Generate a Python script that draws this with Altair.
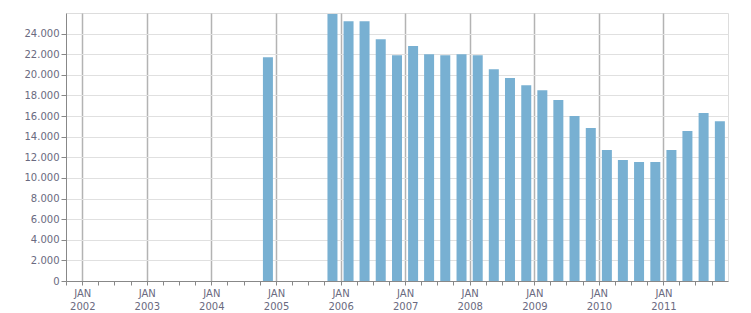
import altair as alt
import pandas as pd
from datetime import datetime, timezone

# Quarterly data (year, quarter) and values
years = [2004, 2005, 2006, 2006, 2006, 2006, 2007, 2007, 2007, 2007,
         2008, 2008, 2008, 2008, 2009, 2009, 2009, 2009, 2010, 2010,
         2010, 2010, 2011, 2011, 2011, 2011]
quarters = [4, 4, 1, 2, 3, 4, 1, 2, 3, 4,
            1, 2, 3, 4, 1, 2, 3, 4, 1, 2,
            3, 4, 1, 2, 3, 4]
values = [21700, 25900, 25200, 25200, 23450, 21900, 22800, 22000, 21900, 22000,
          21900, 20550, 19700, 19000, 18500, 17550, 16000, 14850, 12700, 11750,
          11550, 11550, 12700, 14550, 16300, 15500]

y_ticks = list(range(0, 24001, 2000))


def ms(y, m, d=1):
    return int(datetime(y, m, d, tzinfo=timezone.utc).timestamp() * 1000)


def quarter_mid(y, q):
    start = ms(y, 3 * (q - 1) + 1)
    end = ms(y + 1, 1) if q == 4 else ms(y, 3 * q + 1)
    return (start + end) // 2


df = pd.DataFrame({
    "date": [quarter_mid(y, q) for y, q in zip(years, quarters)],
    "value": values,
})

x_tick_values = [ms(2001, 10)] + [ms(y, m) for y in range(2002, 2012) for m in (1, 4, 7, 10)]

text_color = "#6a6a80"
font = "DejaVu Sans"

chart = alt.Chart(df).mark_bar(size=10, color="#78b0d2").encode(
    x=alt.X(
        "date:T",
        scale=alt.Scale(type="utc", domain=[ms(2001, 10), ms(2012, 1)], padding=0, nice=False),
        axis=alt.Axis(
            title=None,
            values=x_tick_values,
            labelExpr="utcmonth(datum.value) == 0 ? ['JAN', '' + utcyear(datum.value)] : ''",
            labelFont=font,
            labelFontSize=10,
            labelColor=text_color,
            labelLineHeight=13,
            labelPadding=3,
            labelOverlap=False,
            labelFlush=False,
            tickSize=4,
            tickColor="#888888",
            domainColor="#888888",
            grid=True,
            gridColor="#b3b3b3",
            gridWidth=1.5,
            gridOpacity={"condition": {"test": "utcmonth(datum.value) == 0", "value": 1}, "value": 0},
        ),
    ),
    y=alt.Y(
        "value:Q",
        scale=alt.Scale(domain=[0, 26000], nice=False),
        axis=alt.Axis(
            title=None,
            values=y_ticks,
            labelExpr="replace(format(datum.value, ','), ',', '.')",
            labelFont=font,
            labelFontSize=10,
            labelColor=text_color,
            labelPadding=2,
            tickSize=5,
            tickColor="#888888",
            domainColor="#888888",
            gridColor="#e0e0e0",
            gridWidth=1,
        ),
    ),
).properties(
    width=662,
    height=268,
    autosize=alt.AutoSizeParams(type="none"),
    padding={"left": 66, "top": 13, "right": 23, "bottom": 32},
).configure_view(
    stroke="#dddddd",
    strokeWidth=1,
)

chart.save("out.html", embed_options={"renderer": "svg", "actions": False})
